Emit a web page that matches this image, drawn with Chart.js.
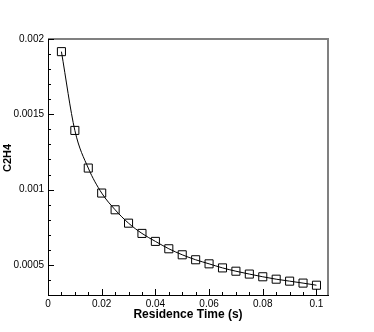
<!DOCTYPE html>
<html>
<head>
<meta charset="utf-8">
<script src="https://cdn.jsdelivr.net/npm/chart.js@4"></script>
<style>
html,body{margin:0;padding:0;background:#fff;}
#wrap{width:374px;height:332px;}
</style>
</head>
<body>
<div id="wrap"><canvas id="c" width="374" height="332"></canvas></div>
<script>
const residenceTime = [0.005,0.01,0.015,0.02,0.025,0.03,0.035,0.04,0.045,0.05,0.055,0.06,0.065,0.07,0.075,0.08,0.085,0.09,0.095,0.1];
const c2h4 = [0.001916,0.001393,0.001143,0.000977,0.000866,0.000777,0.000709,0.000656,0.000607,0.000567,0.000534,0.000507,0.000480,0.000458,0.000439,0.000421,0.000405,0.000392,0.000379,0.000365];
const xTickLabels = [0,0.02,0.04,0.06,0.08,0.1];
const yTickLabels = [0.0005,0.001,0.0015,0.002];
const xMinorStep = 0.005;
const yMinorStep = 0.0001;
const yTitle = 'C2H4';

const tickPlugin = {
  id: 'innerTicks',
  afterDraw(chart) {
    const ctx = chart.ctx;
    const a = chart.chartArea;
    const xs = chart.scales.x, ys = chart.scales.y;
    ctx.save();
    // top & right gray frame
    ctx.strokeStyle = '#808080';
    ctx.lineWidth = 2;
    ctx.beginPath();
    ctx.moveTo(a.left, a.top);
    ctx.lineTo(a.right, a.top);
    ctx.lineTo(a.right, a.bottom);
    ctx.stroke();
    ctx.strokeStyle = '#000';
    ctx.lineWidth = 1;
    ctx.beginPath();
    for (let i = 0; i * xMinorStep <= xs.max + 1e-12; i++) {
      const v = i * xMinorStep;
      const px = Math.round(xs.getPixelForValue(v)) + 0.5;
      const major = i % 4 === 0;
      ctx.moveTo(px, a.bottom);
      ctx.lineTo(px, a.bottom - (major ? 6 : 3));
    }
    for (let i = 0; i * yMinorStep <= ys.max + 1e-12; i++) {
      const v = i * yMinorStep;
      if (v < ys.min - 1e-12) continue;
      const py = Math.round(ys.getPixelForValue(v)) + 0.5;
      const major = i % 5 === 0;
      ctx.moveTo(a.left, py);
      ctx.lineTo(a.left + (major ? 6 : 3), py);
    }
    ctx.stroke();
    // y axis title
    ctx.translate(8, (a.top + a.bottom) / 2 - 9);
    ctx.rotate(-Math.PI / 2);
    ctx.fillStyle = '#000';
    ctx.font = 'bold 11px "Liberation Sans", Arial';
    ctx.textAlign = 'center';
    ctx.textBaseline = 'middle';
    ctx.fillText(yTitle, 0, 0);
    ctx.restore();
  }
};

new Chart(document.getElementById('c'), {
  type: 'line',
  data: {
    datasets: [{
      data: residenceTime.map((x, i) => ({x: x, y: c2h4[i]})),
      borderColor: '#000',
      borderWidth: 1,
      tension: 0.4,
      cubicInterpolationMode: 'monotone',
      pointStyle: 'rect',
      pointRadius: 5.7,
      pointBorderWidth: 1,
      pointBorderColor: '#000',
      pointBackgroundColor: 'rgba(0,0,0,0)',
      fill: false
    }]
  },
  plugins: [tickPlugin],
  options: {
    responsive: false,
    animation: false,
    devicePixelRatio: 1,
    layout: {padding: {left: 0, right: 46, top: 39, bottom: 0}},
    plugins: {legend: {display: false}, tooltip: {enabled: false}},
    scales: {
      x: {
        type: 'linear',
        min: 0,
        max: 0.1043,
        afterBuildTicks(s) { s.ticks = xTickLabels.map(v => ({value: v})); },
        afterFit(s) { s.height = 37; },
        grid: {display: false, drawTicks: false},
        border: {display: true, color: '#000', width: 1},
        ticks: {
          padding: 3,
          color: '#000',
          font: {family: 'Liberation Sans, Arial', size: 10},
          maxRotation: 0,
          callback: v => String(v)
        },
        title: {
          display: true,
          text: 'Residence Time (s)',
          color: '#000',
          font: {family: 'Liberation Sans, Arial', size: 12, weight: 'bold'},
          padding: {top: 0, bottom: 10}
        }
      },
      y: {
        type: 'linear',
        min: 0.0003,
        max: 0.002,
        afterBuildTicks(s) { s.ticks = yTickLabels.map(v => ({value: v})); },
        afterFit(s) { s.width = 48; },
        grid: {display: false, drawTicks: false},
        border: {display: true, color: '#000', width: 1},
        ticks: {
          padding: 4,
          color: '#000',
          font: {family: 'Liberation Sans, Arial', size: 10},
          callback: v => String(v)
        },
        title: {display: false}
      }
    }
  }
});
</script>
</body>
</html>
